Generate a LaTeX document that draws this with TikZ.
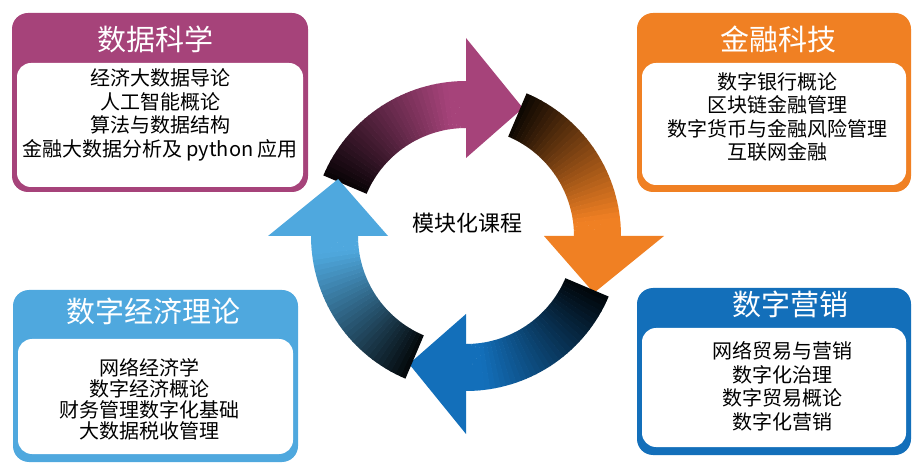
\documentclass[tikz,border=0pt]{standalone}
\usepackage{fontspec}
\setmainfont{Noto Sans CJK SC}
\usepackage{tikz}
\usetikzlibrary{positioning}

\definecolor{dsred}{HTML}{A6437A}
\definecolor{ftorange}{HTML}{F08023}
\definecolor{detblue}{HTML}{4FA8DE}
\definecolor{dmblue}{HTML}{136FBA}

% one quarter of the ring: dark tail fading into the colour, then the head
\newcommand\cyclearrow[2]{%
  \foreach \k in {0,...,33}{%
    \pgfmathsetmacro\angA{#1-2*\k}%
    \pgfmathsetmacro\angB{#1-2*\k-2.2}%
    \pgfmathsetmacro\pct{min(100,6+3.2*\k)}%
    \fill[#2!\pct!black] (\angA:108) arc[start angle=\angA,end angle=\angB,radius=108]
      -- (\angB:155) arc[start angle=\angB,end angle=\angA,radius=155] -- cycle;
  }%
  \fill[#2] (#1-67:78) -- (#1-67:198) -- (#1-91:140) -- cycle;
}

\begin{document}
\begin{tikzpicture}[x=1pt,y=1pt,
outerbox/.style={fill=#1,draw=none,rounded corners=16pt,inner sep=0pt},
innerbox/.style={fill=white,draw=none,rounded corners=14pt,inner sep=0pt},
boxtitle/.style={text=white,inner sep=0pt,font=\fontsize{29pt}{32pt}\selectfont},
courselist/.style={align=center,inner sep=0pt,font=\fontsize{20pt}{23.5pt}\selectfont}]
\useasboundingbox (0,0) rectangle (912,463);

% data science
\node[outerbox=dsred,minimum width=296pt,minimum height=179pt] (ds) at (160,360.5) {};
\node[innerbox,minimum width=286pt,minimum height=124pt,above=5pt of ds.south] (dsin) {};
\node[boxtitle] (dstitle) at ([xshift=-5pt,yshift=-27pt]ds.north) {数据科学};
\node[courselist] (dslist) at ([yshift=10pt]dsin.center)
{经济大数据导论\\人工智能概论\\算法与数据结构\\金融大数据分析及 python 应用};

% fintech
\node[outerbox=ftorange,minimum width=274pt,minimum height=179pt] (ft) at (774,360.5) {};
\node[innerbox,minimum width=264pt,minimum height=122pt,above=7pt of ft.south] (ftin) {};
\node[boxtitle] (fttitle) at ([xshift=4pt,yshift=-27pt]ft.north) {金融科技};
\node[courselist] (ftlist) at ([xshift=3pt,yshift=7pt]ftin.center)
{数字银行概论\\区块链金融管理\\数字货币与金融风险管理\\互联网金融};

% digital economy
\node[outerbox=detblue,minimum width=285pt,minimum height=172pt] (de) at (155.5,87) {};
\node[innerbox,minimum width=275pt,minimum height=115pt,above=8pt of de.south] (dein) {};
\node[boxtitle] (detitle) at ([xshift=-2pt,yshift=-22pt]de.north) {数字经济理论};
\node[courselist,font=\fontsize{20pt}{21pt}\selectfont] (delist) at ([xshift=-6pt,yshift=-3pt]dein.center)
{网络经济学\\数字经济概论\\财务管理数字化基础\\大数据税收管理};

% digital marketing
\node[outerbox=dmblue,minimum width=274pt,minimum height=167pt] (dm) at (774,91.5) {};
\node[innerbox,minimum width=264pt,minimum height=119pt,above=8pt of dm.south] (dmin) {};
\node[boxtitle] (dmtitle) at ([xshift=16pt,yshift=-17pt]dm.north) {数字营销};
\node[courselist] (dmlist) at ([xshift=8pt,yshift=1pt]dmin.center)
{网络贸易与营销\\数字化治理\\数字贸易概论\\数字化营销};

% the cycle
\begin{scope}[shift={(466,227)}]
\cyclearrow{157}{dsred}
\cyclearrow{67}{ftorange}
\cyclearrow{-23}{dmblue}
\cyclearrow{-113}{detblue}
\end{scope}
\node[font=\fontsize{22pt}{24pt}\selectfont] (core) at (467,240) {模块化课程};
\end{tikzpicture}
\end{document}
